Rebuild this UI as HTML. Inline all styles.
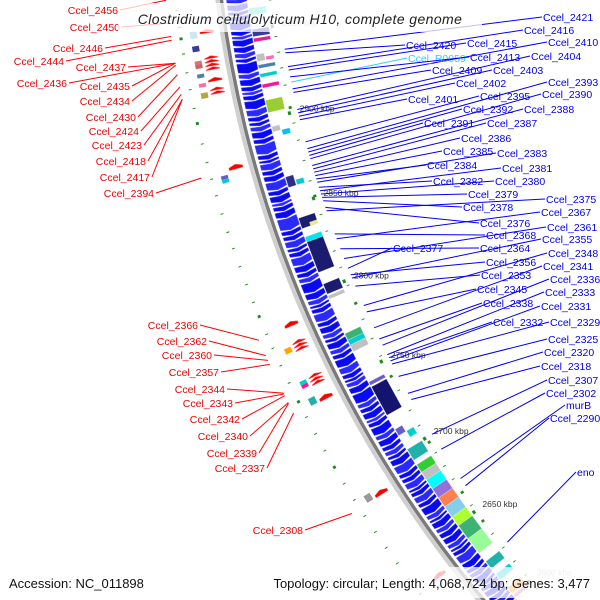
<!DOCTYPE html>
<html><head><meta charset="utf-8">
<style>
html,body{margin:0;padding:0;background:#fff;width:600px;height:600px;overflow:hidden;}
svg{display:block;font-family:"Liberation Sans",sans-serif;}
</style></head>
<body>
<svg id="map" width="600" height="600" viewBox="0 0 600 600" xmlns="http://www.w3.org/2000/svg">
<rect width="600" height="600" fill="#fff"/>
<g id="tracks"></g>
<g id="labels"></g>
<rect x="118" y="3" width="364" height="29" fill="#fff" fill-opacity="0.75"/>
<text x="300" y="24" text-anchor="middle" font-size="14" font-style="italic" letter-spacing="0.4" fill="#222">Clostridium cellulolyticum H10, complete genome</text>
<rect x="0" y="567" width="600" height="31" fill="#fff" fill-opacity="0.75"/>
<text x="9" y="588" font-size="13" fill="#111">Accession: NC_011898</text>
<text x="590" y="588" text-anchor="end" font-size="13" fill="#111">Topology: circular; Length: 4,068,724 bp; Genes: 3,477</text>
</svg>
<script>
// ---- data ----
const tickKbp = [2950, 2900, 2850, 2800, 2750, 2700, 2650, 2600];
const blueGeneStartKbp = 2968;
const blueGeneLengths = [3,4,2.5,3,5,3,2,4,3.5,3,2.5,6,3,4,3,2,3,5,4,3,2.5,3,4,3,6,3,2,4,3,3.5,5,3,4,2,3,4,7,3,3,4,2.5,3,5,4,3,3,6,4,3,2,3,5,3,4,3,2.5,4,3,3,5,4,3,2,3,4,6,3,3,4,2,3,5,3,4,3,3,2.5,4,5,3,3,4,2,3,4,3,5,3,2,4,3,3.5,4,3,2,3,5,4,3,3,4,2.5,3,4,3,3,4,3,5,3,4,3,2.5,3,4,3,5,3];
const boxStart = [2962,2950,2945,2936,2934,2930,2925,2919,2910,2895,2892,2866,2863,2842,2838,2831,2828,2803,2796,2773,2769,2766,2743,2740,2713,2709,2700,2690,2685,2680,2674,2668,2662,2655,2649,2640,2624,2615,2605,2600];
const boxEnd   = [2958,2946,2943,2932,2932,2928,2923,2917,2903,2892,2889,2860,2860,2836,2836,2828,2810,2797,2794,2769,2766,2762,2741,2722,2709,2705,2693,2685,2680,2674,2668,2662,2655,2649,2640,2630,2619,2611,2601,2598];
const boxColor = ['#40e0d0','#3a3a9a','#e0218a','#c0c0c0','#ff69b4','#4682b4','#00ced1','#ff1493','#9acd32','#c0c0c0','#00bfff','#2e2e8a','#00ced1','#1c1c6e','#f0e68c','#00e5ee','#1c1c6e','#1c1c6e','#c0c0c0','#3cb371','#00ced1','#c0c0c0','#6a5acd','#14146e','#6a5acd','#00ced1','#20b2aa','#32cd32','#c0c0c0','#00ffff','#9370db','#ff7f50','#87ceeb','#adff2f','#3cb371','#98fb98','#20b2aa','#00ced1','#ff8c00','#db7093'];
const boxLane  = [0,0,0,2,1,0,0,0,0,2,1,2,1,0,1,0,0,0,0,0,0,0,0,0,2,1,0,0,0,0,0,0,0,0,0,0,0,0,0,0];
const innerGreenKbp = [2965,2955,2944,2935,2926,2916,2903,2894,2884,2872,2860,2851,2840,2830,2818,2808,2797,2786,2776,2764,2753,2740,2731,2718,2708,2697,2690,2681,2672,2663,2654,2643,2634,2624,2614,2604,2594];
const innerGreenLen = [0.5,0.5,0.5,0.5,0.5,0.5,1.5,0.5,0.5,0.5,0.5,1.5,0.5,0.5,0.5,0.5,0.5,1.5,0.5,0.5,0.5,1.5,0.5,0.5,0.5,1.5,0.5,0.5,0.5,1.5,0.5,1.5,0.5,0.5,0.5,0.5,0.5];
const redArrowKbp = [2953,2939,2937,2935,2933,2927,2922,2920,2879,2790,2780,2778,2776,2760,2758,2756,2747,2688,2634];
const redArrowLen = [2,1.5,1.5,1.5,1.5,2,1.5,1.5,2.5,2.5,1.5,1.5,1.5,1.5,1.5,1.5,2.5,2.5,2.5];
const outerBoxStart = [2954,2946,2938,2936,2931,2926,2921,2876,2874,2779,2760,2758,2750,2691];
const outerBoxEnd   = [2950,2943,2935,2934,2929,2924,2918,2874,2872,2776,2758,2756,2746,2687];
const outerBoxColor = ['#cfe3f0','#3a3a9a','#e07070','#c86464','#4682b4','#ff69b4','#b5a642','#6a5acd','#00ced1','#ffa500','#00ced1','#ff1493','#20b2aa','#999999'];
const outerGreenKbp = [2966,2957,2951,2943,2933,2924,2914,2906,2895,2885,2876,2867,2857,2847,2838,2828,2818,2808,2800,2790,2782,2772,2762,2751,2742,2732,2722,2712,2702,2692,2682,2672,2662,2652,2642,2632,2622,2612,2602,2592];
const outerGreenLen = [0.5,0.5,1.5,0.5,0.5,0.5,0.5,1.5,0.5,0.5,0.5,0.5,0.5,0.5,0.5,0.5,0.5,0.5,1.5,0.5,0.5,0.5,0.5,1.5,0.5,0.5,0.5,1.5,0.5,0.5,0.5,0.5,0.5,0.5,0.5,0.5,0.5,0.5,0.5,0.5];
const blueLabelNames = ['Ccel_2421','Ccel_2416','Ccel_2410','Ccel_2420','Ccel_2415','Ccel_R0059','Ccel_2413','Ccel_2404','Ccel_2409','Ccel_2403','Ccel_2402','Ccel_2393','Ccel_2390','Ccel_2401','Ccel_2395','Ccel_2392','Ccel_2388','Ccel_2391','Ccel_2387','Ccel_2386','Ccel_2385','Ccel_2383','Ccel_2384','Ccel_2381','Ccel_2382','Ccel_2380','Ccel_2379','Ccel_2375','Ccel_2378','Ccel_2367','Ccel_2376','Ccel_2361','Ccel_2368','Ccel_2355','Ccel_2377','Ccel_2364','Ccel_2348','Ccel_2356','Ccel_2341','Ccel_2353','Ccel_2336','Ccel_2345','Ccel_2333','Ccel_2338','Ccel_2331','Ccel_2332','Ccel_2329','Ccel_2325','Ccel_2320','Ccel_2318','Ccel_2307','Ccel_2302','murB','Ccel_2290','eno'];
const blueLabelKbp = [2936,2926,2913,2934,2924,2917,2920,2901,2911,2899,2897,2878,2872,2895,2882,2876,2868,2874,2866,2864,2862,2858,2860,2853,2855,2851,2849,2841,2847,2824,2843,2812,2827,2800,2806,2818,2783,2802,2769,2795,2758,2779,2752,2762,2748,2750,2746,2738,2727,2723,2700,2690,2670,2665,2625];
const blueLabelX = [543,524,548,406,467,408,470,531,432,493,456,548,542,408,480,463,524,424,487,461,443,497,427,502,433,495,468,546,463,541,480,547,486,542,393,480,548,486,543,481,550,477,545,483,541,493,550,548,544,541,548,546,566,550,577];
const blueLabelY = [21,34,46,49,47,62,61,60,74,74,87,86,98,103,100,113,113,127,127,142,155,157,169,172,185,185,198,203,211,216,227,231,239,243,252,252,257,266,270,279,283,293,296,307,310,326,326,343,356,370,384,397,409,422,476];
const redLabelNames = ['Ccel_2456','Ccel_2450','Ccel_2446','Ccel_2444','Ccel_2437','Ccel_2436','Ccel_2435','Ccel_2434','Ccel_2430','Ccel_2424','Ccel_2423','Ccel_2418','Ccel_2417','Ccel_2394','Ccel_2366','Ccel_2362','Ccel_2360','Ccel_2357','Ccel_2344','Ccel_2343','Ccel_2342','Ccel_2340','Ccel_2339','Ccel_2337','Ccel_2308'];
const redLabelKbp = [2972,2960,2953,2951,2939,2939,2939,2938,2933,2926.5,2922.6,2920,2920,2878,2788.7,2780,2777.3,2775,2758.5,2758,2757,2753,2752.7,2747,2686.8];
const redLabelEndX = [118,120,103,64,126,67,130,130,136,139,142,146,150,154,198,207,212,219,225,233,240,248,257,265,303];
const redLabelY = [14,31,52,65,71,87,90,105,121,135,149,165,181,197,329,345,359,376,393,407,423,440,457,472,534];

// ---- geometry ----
const CX = 1379, CY = -148.4, R = 1167;
const NS = 'http://www.w3.org/2000/svg';
function ang(k){ return (166.5 - (2900 - k) * 0.0905) * Math.PI / 180; }
function pt(k, r){ const a = ang(k); return [CX + r * Math.cos(a), CY + r * Math.sin(a)]; }
function P(a){ return a[0].toFixed(1) + ',' + a[1].toFixed(1); }
const tracks = document.getElementById('tracks');
const labels = document.getElementById('labels');
function mk(tag, attrs, parent){
  const e = document.createElementNS(NS, tag);
  for (const k in attrs) e.setAttribute(k, attrs[k]);
  parent.appendChild(e);
  return e;
}
function arcPath(k1, k2, r){
  const a = pt(k1, r), b = pt(k2, r);
  return 'M' + P(a) + ' A' + r + ' ' + r + ' 0 0 0 ' + P(b);
}
function quad(k1, k2, r1, r2){
  return [pt(k1, r1), pt(k2, r1), pt(k2, r2), pt(k1, r2)].map(P).join(' ');
}

// backbone
let e = mk('path', {d: arcPath(3010, 2540, R + 4), fill: 'none', stroke: '#cfcfcf', 'stroke-width': 4}, tracks);


e = mk('path', {d: arcPath(3010, 2540, R), fill: 'none', stroke: '#7a7a7a', 'stroke-width': 3.5}, tracks);



// blue genes
let k = blueGeneStartKbp;
blueGeneLengths.forEach((len, i) => {
  const k1 = k, k2 = k - len; k = k2;
  const r1 = 1142, r2 = 1162, rm = 1152;
  const head = Math.min(1.3, len * 0.55);
  const pts = [pt(k1, r1), pt(k2 + head, r1), pt(k2, rm), pt(k2 + head, r2), pt(k1, r2), pt(k1 - head * 0.5, rm)].map(P).join(' ');
  const g = mk('polygon', {points: pts, fill: (i % 3 === 0) ? '#2a2aff' : '#0a0af0', stroke: '#5555ff', 'stroke-width': 0.5}, tracks);
  
  
});

// inner colored boxes
boxStart.forEach((s, i) => {
  const lane = boxLane[i];
  const r1 = lane === 2 ? 1133 : 1124, r2 = lane === 1 ? 1132 : 1141;
  const b = mk('polygon', {points: quad(s, boxEnd[i], r1, r2), fill: boxColor[i], stroke: '#ffffff', 'stroke-opacity': 0.35, 'stroke-width': 0.6}, tracks);
  
  
});

// inner green track
innerGreenKbp.forEach((g, i) => {
  const m = mk('polygon', {points: quad(g + innerGreenLen[i] / 2, g - innerGreenLen[i] / 2, 1117, 1120), fill: '#1a8a1a'}, tracks);
  
  
});

// ticks
tickKbp.forEach((t) => {
  const d = mk('polygon', {points: quad(t + 1, t - 1, 1119, 1122), fill: '#1a8a1a'}, tracks);
  
  
  const p = pt(t, 1110);
  const tx = mk('text', {x: p[0].toFixed(1), y: (p[1] + 1).toFixed(1), 'font-size': 8.5, fill: t === 2600 || t === 2950 ? '#bbb' : '#333'}, tracks);
  tx.textContent = t + ' kbp';
  
  
});

// outer red arrows
redArrowKbp.forEach((a, i) => {
  const k1 = a - redArrowLen[i] / 2, k2 = a + redArrowLen[i] / 2;
  const r1 = 1179, r2 = 1193, rm = 1186;
  const pts = [pt(k1, r1), pt(k2 - 1.2, r1), pt(k2, rm), pt(k2 - 1.2, r2), pt(k1, r2)].map(P).join(' ');
  const m = mk('polygon', {points: pts, fill: '#ff0000', stroke: '#ff6060', 'stroke-width': 0.5}, tracks);
  
  
});

// outer colored boxes
outerBoxStart.forEach((s, i) => {
  const b = mk('polygon', {points: quad(s, outerBoxEnd[i], 1196, 1203), fill: outerBoxColor[i]}, tracks);
  
  
});

// outer green track
outerGreenKbp.forEach((g, i) => {
  const m = mk('polygon', {points: quad(g + outerGreenLen[i] / 2, g - outerGreenLen[i] / 2, 1211, 1214), fill: '#1a8a1a'}, tracks);
  
  
});

// blue labels
blueLabelNames.forEach((n, i) => {
  const s = pt(blueLabelKbp[i], 1112);
  const col = n === 'Ccel_R0059' ? '#33ccff' : '#0000ee';
  const ln = mk('line', {x1: s[0].toFixed(1), y1: s[1].toFixed(1), x2: blueLabelX[i] - 1, y2: blueLabelY[i] - 4, stroke: col, 'stroke-width': 1}, labels);
  
  
  const t = mk('text', {x: blueLabelX[i], y: blueLabelY[i], 'font-size': 10.5, fill: col}, labels);
  t.textContent = n;
  
  
});

// red labels
redLabelNames.forEach((n, i) => {
  const s = pt(redLabelKbp[i], 1222);
  const ln = mk('line', {x1: redLabelEndX[i] + 2, y1: redLabelY[i] - 4, x2: s[0].toFixed(1), y2: s[1].toFixed(1), stroke: '#ff0000', 'stroke-width': 1}, labels);
  
  
  const t = mk('text', {x: redLabelEndX[i], y: redLabelY[i], 'font-size': 10.5, fill: '#ee0000', 'text-anchor': 'end'}, labels);
  t.textContent = n;
  
  
});
</script>
</body></html>
